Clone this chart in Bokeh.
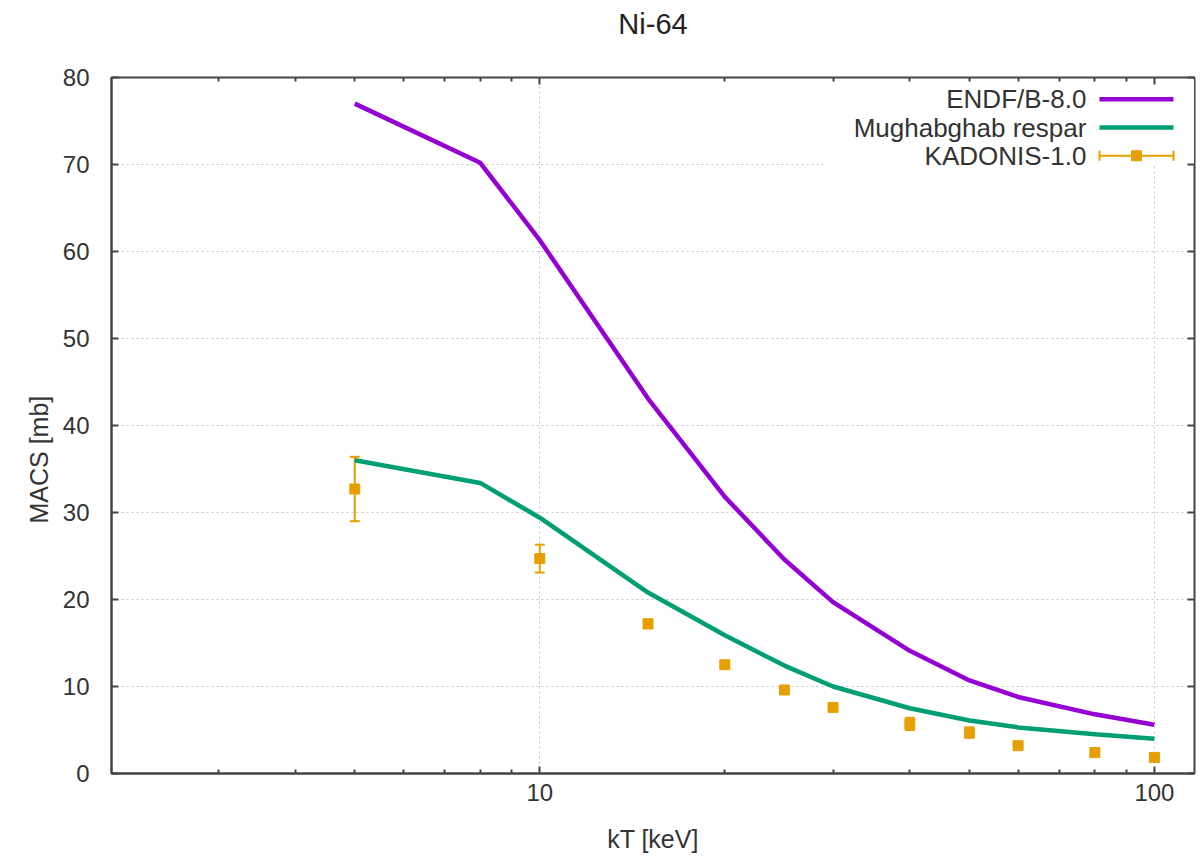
from bokeh.plotting import figure
from bokeh.models import (ColumnDataSource, Whisker, TeeHead, FixedTicker, LogAxis,
                          LinearAxis, PrintfTickFormatter, BoxAnnotation, Label, Title)
from bokeh.embed import file_html
from bokeh.resources import INLINE

# ---------------- data ----------------
title_text = "Ni-64"
x_label = "kT [keV]"
y_label = "MACS [mb]"
series_names = ["ENDF/B-8.0", "Mughabghab respar", "KADONIS-1.0"]

kt_endf = [5, 8, 10, 15, 20, 25, 30, 40, 50, 60, 80, 100]
macs_endf = [77.0, 70.2, 61.3, 43.1, 31.8, 24.6, 19.7, 14.1, 10.7, 8.8, 6.8, 5.6]

kt_resp = [5, 8, 10, 15, 20, 25, 30, 40, 50, 60, 80, 100]
macs_resp = [36.0, 33.4, 29.4, 20.8, 15.9, 12.4, 10.0, 7.5, 6.1, 5.3, 4.5, 4.0]

kt_kad = [5, 10, 15, 20, 25, 30, 40, 50, 60, 80, 100]
macs_kad = [32.7, 24.7, 17.2, 12.5, 9.6, 7.6, 5.7, 4.7, 3.2, 2.4, 1.85]
err_kad = [3.7, 1.6, 0.5, 0.3, 0.3, 0.25, 0.7, 0.6, 0.2, 0.2, 0.2]

x_major = [10, 100]
x_minor = [3, 4, 5, 6, 7, 8, 9, 20, 30, 40, 50, 60, 70, 80, 90]
y_ticks = [0, 10, 20, 30, 40, 50, 60, 70, 80]

# ---------------- style ----------------
PURPLE = "#9400D3"
GREEN = "#009E73"
ORANGE = "#E69F00"
FONT = "Liberation Sans"
AX = "#444444"
TXT = "#333333"

p = figure(width=1196, height=855, x_axis_type="log", x_range=(2.01, 116.2), y_range=(0, 80),
           output_backend="svg", toolbar_location=None,
           min_border_left=111, min_border_right=2, min_border_top=77, min_border_bottom=82)
p.background_fill_color = "white"
p.border_fill_color = "white"
p.outline_line_color = AX
p.outline_line_width = 2
p.title.text = ""

# axes
xa = p.xaxis[0]
xa.ticker = FixedTicker(ticks=x_major, minor_ticks=x_minor)
xa.formatter = PrintfTickFormatter(format="%d")
ya = p.yaxis[0]
ya.ticker = FixedTicker(ticks=y_ticks)
for ax in (xa, ya):
    ax.axis_line_color = AX
    ax.axis_line_width = 2
    ax.major_tick_in = 7
    ax.major_tick_out = 0
    ax.major_tick_line_color = AX
    ax.major_tick_line_width = 2
    ax.minor_tick_in = 4
    ax.minor_tick_out = 0
    ax.minor_tick_line_color = AX
    ax.minor_tick_line_width = 2
    ax.major_label_text_font = FONT
    ax.major_label_text_font_size = "24px"
    ax.major_label_text_color = TXT
    ax.axis_label_text_font = FONT
    ax.axis_label_text_font_size = "25px"
    ax.axis_label_text_font_style = "normal"
    ax.axis_label_text_color = TXT
xa.axis_label = x_label
xa.major_label_standoff = 10
xa.axis_label_standoff = 21
ya.major_label_standoff = 22

# y-axis title, placed a little below the frame centre as in the original
y_title = Title(text=y_label, align="left", offset=250, standoff=14,
                text_font=FONT, text_font_size="25px", text_font_style="normal",
                text_color=TXT)
p.add_layout(y_title, "left")

# mirrored top axis (ticks only) carrying the chart title
top = LogAxis(ticker=FixedTicker(ticks=x_major, minor_ticks=x_minor),
              major_label_text_font_size="1px", major_label_text_alpha=0.0,
              axis_line_color=None,
              major_tick_in=7, major_tick_out=0, minor_tick_in=4, minor_tick_out=0,
              major_tick_line_color=AX, minor_tick_line_color=AX,
              major_tick_line_width=2, minor_tick_line_width=2, major_label_standoff=0,
              axis_label=title_text, axis_label_standoff=38,
              axis_label_text_font=FONT, axis_label_text_font_size="29px",
              axis_label_text_font_style="normal", axis_label_text_color="#222222")
p.add_layout(top, "above")
right = LinearAxis(ticker=FixedTicker(ticks=y_ticks),
                   major_label_text_font_size="1px", major_label_text_alpha=0.0,
                   axis_line_color=None,
                   major_tick_in=7, major_tick_out=0, major_tick_line_color=AX,
                   major_tick_line_width=2, minor_tick_line_color=None, major_label_standoff=0)
p.add_layout(right, "right")

# grid
p.xgrid.ticker = FixedTicker(ticks=x_major)
p.ygrid.ticker = FixedTicker(ticks=y_ticks)
for g in (p.xgrid[0], p.ygrid[0]):
    g.grid_line_color = "#c4c4c4"
    g.grid_line_dash = "2 3"
    g.grid_line_width = 1

# ---------------- data glyphs ----------------
p.line(kt_endf, macs_endf, line_color=PURPLE, line_width=4.5)
p.line(kt_resp, macs_resp, line_color=GREEN, line_width=4.5)

src = ColumnDataSource(dict(x=kt_kad, y=macs_kad,
                            lo=[m - e for m, e in zip(macs_kad, err_kad)],
                            hi=[m + e for m, e in zip(macs_kad, err_kad)]))
wh = Whisker(base="x", lower="lo", upper="hi", source=src, dimension="height",
             line_color=ORANGE, line_width=2,
             upper_head=TeeHead(size=10, line_color=ORANGE, line_width=2),
             lower_head=TeeHead(size=10, line_color=ORANGE, line_width=2))
p.add_layout(wh)
p.scatter("x", "y", source=src, marker="square", size=10, fill_color=ORANGE, line_color=ORANGE)

# ---------------- key (gnuplot style: text then sample) ----------------
key_box = BoxAnnotation(left=28.9, right=116.0, bottom=69.9, top=79.8,
                        fill_color="white", fill_alpha=1.0, line_color=None, level="underlay")
p.add_layout(key_box)
key_rows_y = [77.5, 74.25, 71.0]
key_text_x = 77.5
key_x0, key_x1, key_xm = 81.4, 107.4, 93.5
for name, yy in zip(series_names, key_rows_y):
    p.add_layout(Label(x=key_text_x, y=yy, text=name, text_align="right", text_baseline="middle",
                       text_font=FONT, text_font_size="26px", text_color=TXT))
p.segment(x0=[key_x0], y0=[key_rows_y[0]], x1=[key_x1], y1=[key_rows_y[0]], line_color=PURPLE, line_width=4.5)
p.segment(x0=[key_x0], y0=[key_rows_y[1]], x1=[key_x1], y1=[key_rows_y[1]], line_color=GREEN, line_width=4.5)
p.segment(x0=[key_x0], y0=[key_rows_y[2]], x1=[key_x1], y1=[key_rows_y[2]], line_color=ORANGE, line_width=2)
p.scatter(x=[key_x0, key_x1], y=[key_rows_y[2]] * 2, marker="dash", angle=1.5708, size=10,
          line_color=ORANGE, line_width=2)
p.scatter(x=[key_xm], y=[key_rows_y[2]], marker="square", size=10, fill_color=ORANGE, line_color=ORANGE)

open("out.html", "w").write(file_html(p, INLINE))
